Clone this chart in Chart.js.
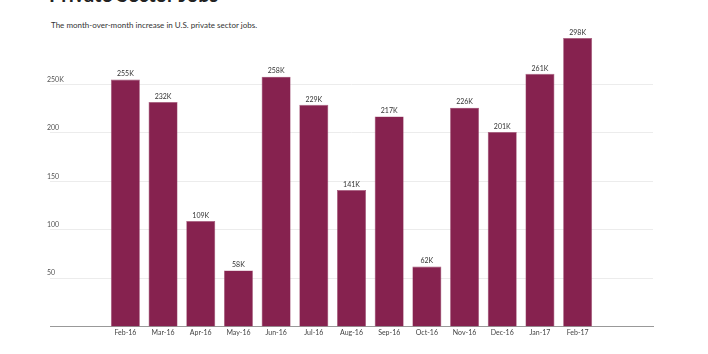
<!DOCTYPE html>
<html>
<head>
<meta charset="utf-8">
<script src="https://cdn.jsdelivr.net/npm/chart.js@4.4.1/dist/chart.umd.min.js"></script>
<style>
    html, body { margin: 0; padding: 0; background: #fff; }
    body { width: 708px; height: 354px; position: relative; overflow: hidden; font-family: Lato, "Open Sans", sans-serif; }
    #title { position: absolute; left: 49px; top: -18px; font-size: 20px; font-weight: bold; color: #222; white-space: nowrap; }
    #subtitle { position: absolute; left: 51px; top: 20px; font-size: 8px; color: #333; white-space: nowrap; }
    #wrap { position: absolute; left: 0; top: 0; width: 708px; height: 354px; }
</style>
</head>
<body>
<div id="title">Private Sector Jobs</div>
<div id="subtitle">The month-over-month increase in U.S. private sector jobs.</div>
<div id="wrap"><canvas id="myChart"></canvas></div>
<script>
// 月份
var months = ['Feb-16', 'Mar-16', 'Apr-16', 'May-16', 'Jun-16', 'Jul-16', 'Aug-16', 'Sep-16', 'Oct-16', 'Nov-16', 'Dec-16', 'Jan-17', 'Feb-17']
// 新增就业 (千)
var jobs = [255, 232, 109, 58, 258, 229, 141, 217, 62, 226, 201, 261, 298]
// 纵轴刻度
var yTicks = [50, 100, 150, 200, 250]

// two empty slots each side, the axis runs wider than the bars
var labels = ['', ''].concat(months, ['', ''])
var data = [null, null].concat(jobs, [null, null])

/** 柱顶数值 */
var valueLabels = {
    id: 'valueLabels',
    afterDatasetsDraw: function (chart) {
        var ctx = chart.ctx
        var meta = chart.getDatasetMeta(0)
        ctx.save()
        ctx.font = '7px Lato, "Open Sans", sans-serif'
        ctx.fillStyle = '#333'
        ctx.textAlign = 'center'
        ctx.textBaseline = 'bottom'
        meta.data.forEach(function (bar, i) {
            var v = data[i]
            if (v === null) return
            ctx.fillText(v + 'K', bar.x, bar.y - 2)
        })
        ctx.restore()
    }
}

var ctx = document.getElementById('myChart').getContext('2d')
var myChart = new Chart(ctx, {
    type: 'bar',
    data: {
        labels: labels,
        datasets: [{
            data: data,
            backgroundColor: '#86224F',
            borderColor: '#a4587a',
            borderWidth: 0.6,
            barPercentage: 0.77,
            categoryPercentage: 1
        }]
    },
    options: {
        responsive: true,
        maintainAspectRatio: false,
        animation: false,
        layout: { padding: { left: 50, right: 55, top: 37, bottom: 15 } },
        plugins: {
            legend: { display: false },
            tooltip: { enabled: false }
        },
        scales: {
            x: {
                offset: false,
                grid: { display: false, drawTicks: false },
                border: { display: true, color: '#999', width: 1 },
                ticks: {
                    color: '#444',
                    font: { size: 7, family: 'Lato, "Open Sans", sans-serif' },
                    padding: 2,
                    maxRotation: 0,
                    autoSkip: false
                }
            },
            y: {
                min: 0,
                max: 299,
                grid: { color: '#ececec', drawTicks: false },
                border: { display: false },
                afterBuildTicks: function (scale) {
                    scale.ticks = yTicks.map(function (v) { return { value: v } })
                },
                ticks: {
                    mirror: true,
                    padding: -1,
                    labelOffset: -5,
                    color: '#555',
                    font: { size: 7, family: 'Lato, "Open Sans", sans-serif' },
                    callback: function (v) { return v === 250 ? v + 'K' : v }
                }
            }
        }
    },
    plugins: [valueLabels]
})
</script>
</body>
</html>
